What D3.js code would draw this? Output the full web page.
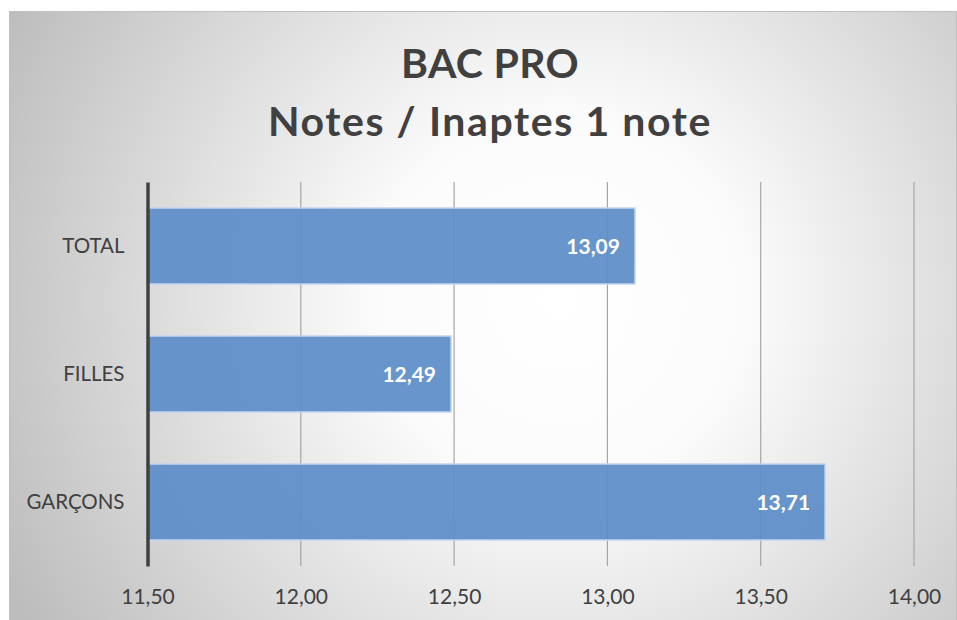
<!DOCTYPE html>
<html>
<head>
<meta charset="utf-8">
<script src="https://cdn.jsdelivr.net/npm/d3@7"></script>
<style>
  html, body { margin: 0; padding: 0; background: #fff; }
  svg { display: block; font-family: Lato, "Open Sans", sans-serif; }
</style>
</head>
<body>
<div id="chart"></div>
<script>
const categories = ["TOTAL", "FILLES", "GARÇONS"];
const values = [13.09, 12.49, 13.71];
const tickValues = [11.5, 12, 12.5, 13, 13.5, 14];
const titleLines = ["BAC PRO", "Notes / Inaptes 1 note"];

const width = 957;
const height = 620;
const margin = { top: 182, right: 43, bottom: 54, left: 147.5 };

const fmt = d => d3.format(".2f")(d).replace(".", ",");

const svg = d3.select("#chart")
    .append("svg")
    .attr("width", width)
    .attr("height", height);

const defs = svg.append("defs");
const grad = defs.append("radialGradient")
    .attr("id", "bg")
    .attr("gradientUnits", "userSpaceOnUse")
    .attr("cx", 560).attr("cy", 300).attr("r", 620);
grad.append("stop").attr("offset", "0%").attr("stop-color", "#ffffff");
grad.append("stop").attr("offset", "30%").attr("stop-color", "#fbfbfb");
grad.append("stop").attr("offset", "100%").attr("stop-color", "#bdbdbd");

// chart area frame
svg.append("rect")
    .attr("x", 9.5).attr("y", 11.5)
    .attr("width", 947).attr("height", 610)
    .attr("fill", "url(#bg)")
    .attr("stroke", "#bfbfbf");

const x = d3.scaleLinear()
    .domain([11.5, 14])
    .range([margin.left, width - margin.right]);

const y = d3.scaleBand()
    .domain(categories)
    .range([margin.top, height - margin.bottom])
    .paddingInner(0.406)
    .paddingOuter(0.203);

// title
svg.append("g")
    .selectAll("text")
    .data(titleLines)
    .join("text")
    .attr("x", 490)
    .attr("y", (d, i) => 78 + i * 58)
    .attr("text-anchor", "middle")
    .attr("font-size", "41px")
    .attr("font-weight", "bold")
    .attr("letter-spacing", (d, i) => i === 0 ? "0.3px" : "1.6px")
    .attr("fill", "#404040")
    .text(d => d);

// gridlines
svg.append("g")
    .selectAll("line")
    .data(tickValues.slice(1))
    .join("line")
    .attr("x1", d => x(d)).attr("x2", d => x(d))
    .attr("y1", margin.top).attr("y2", height - margin.bottom)
    .attr("stroke", "#a6a6a6")
    .attr("stroke-width", 1.2);

// bars
svg.append("g")
    .selectAll("rect")
    .data(values)
    .join("rect")
    .attr("x", x(11.5))
    .attr("y", (d, i) => y(categories[i]))
    .attr("width", d => x(d) - x(11.5))
    .attr("height", y.bandwidth())
    .attr("fill", "#5d8dc7")
    .attr("fill-opacity", 0.93)
    .attr("stroke", "#c5d6ec")
    .attr("stroke-width", 1.5);

// data labels
svg.append("g")
    .selectAll("text")
    .data(values)
    .join("text")
    .attr("x", d => x(d) - 15)
    .attr("y", (d, i) => y(categories[i]) + y.bandwidth() / 2 + 7.5)
    .attr("text-anchor", "end")
    .attr("font-size", "21px")
    .attr("font-weight", "bold")
    .attr("fill", "#ffffff")
    .text(d => fmt(d));

// x axis labels
const xAxis = d3.axisBottom(x)
    .tickValues(tickValues)
    .tickFormat(fmt)
    .tickSize(0)
    .tickPadding(23);
const gx = svg.append("g")
    .attr("transform", `translate(0,${height - margin.bottom})`)
    .call(xAxis);
gx.select(".domain").remove();
gx.selectAll("text")
    .attr("font-family", "Lato, 'Open Sans', sans-serif")
    .attr("font-size", "21px")
    .attr("fill", "#404040");

// y axis
const yAxis = d3.axisLeft(y).tickSize(0).tickPadding(23);
const gy = svg.append("g")
    .attr("transform", `translate(${margin.left},0)`)
    .call(yAxis);
gy.select(".domain")
    .attr("stroke", "#404040")
    .attr("stroke-width", 3.5);
gy.selectAll("text")
    .attr("font-family", "Lato, 'Open Sans', sans-serif")
    .attr("font-size", "20.5px")
    .attr("fill", "#404040");
</script>
</body>
</html>
